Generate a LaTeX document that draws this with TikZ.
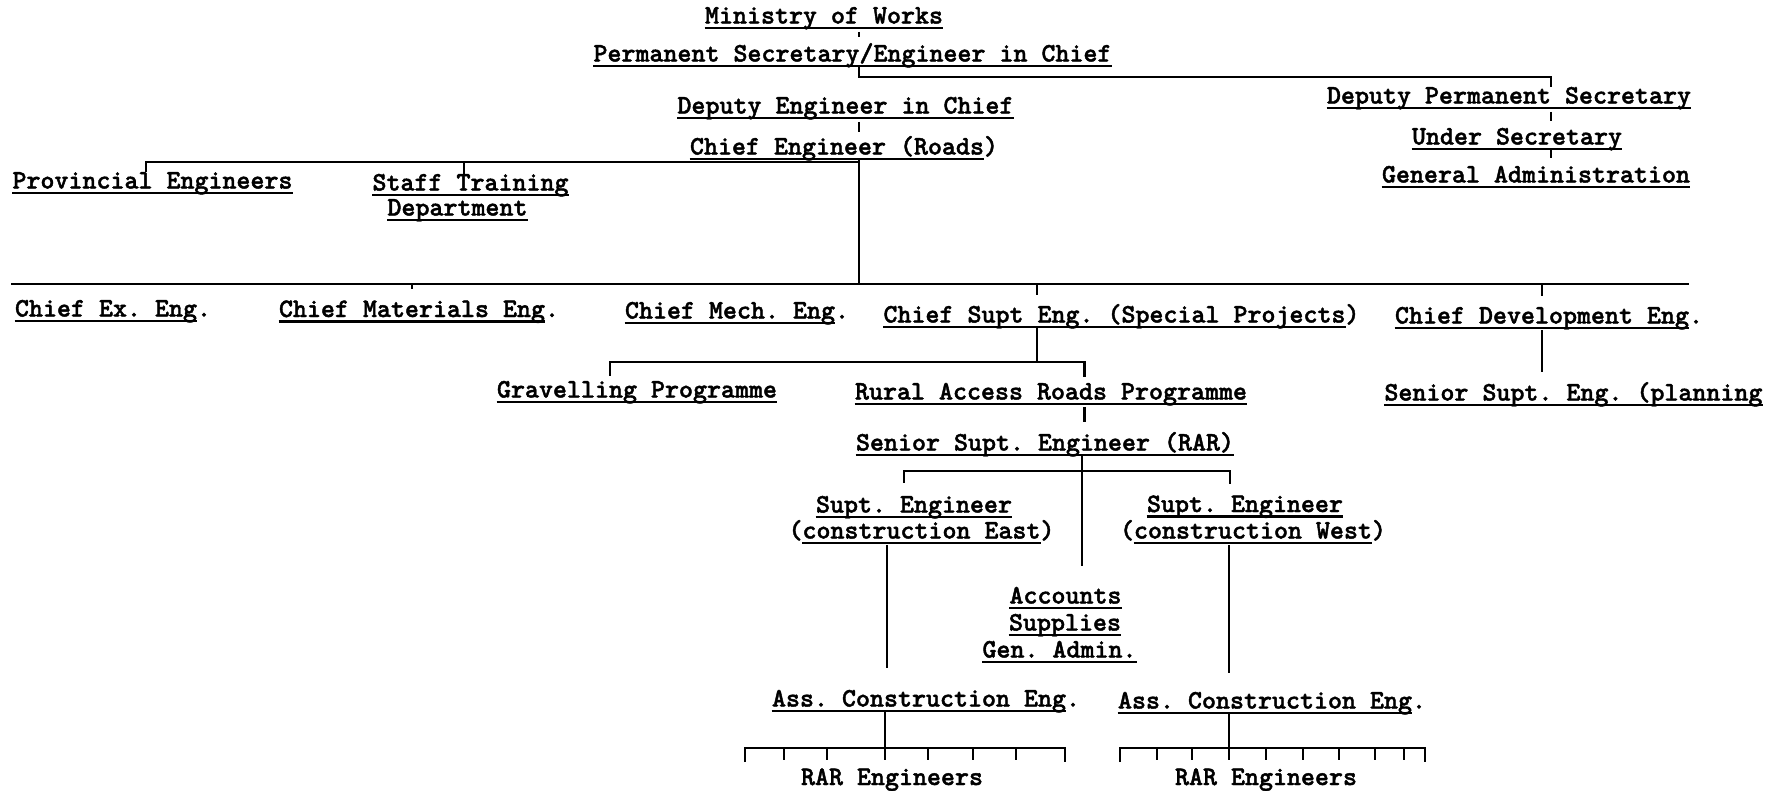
\documentclass[tikz,border=0pt]{standalone}
\usepackage{fontspec}
\newfontfamily\tw{lmmonolt10-bold}[Extension=.otf,FakeBold=1.6]
\usetikzlibrary{calc}
\frenchspacing
\newcommand\ulnode[5][]{%
  \node[tw,#1] (#2) at (#3,#4) {#5};
  \draw[ul] ([yshift=-2pt]#2.base west) -- ([yshift=-2pt]#2.base east);
  \coordinate (#2-u) at ([yshift=-2pt]#2.base);
}
\begin{document}
\begin{tikzpicture}[x=0.45pt,y=-0.45pt,
  tw/.style={font=\tw\fontsize{12}{14}\selectfont\frenchspacing, inner sep=0pt, anchor=base,
             text height=7.3pt, text depth=2.4pt},
  ul/.style={line width=1.15pt},
  ln/.style={line width=1.1pt}]
\fill[white] (0,0) rectangle (1777,790);
% ---- nodes
\ulnode{mow}{824}{23.5}{Ministry of Works}
\ulnode{psec}{852.5}{61.5}{Permanent Secretary/Engineer in Chief}
\ulnode{dec}{845.5}{113.5}{Deputy Engineer in Chief}
\ulnode{cer}{837}{154.5}{Chief Engineer (Roads\rlap{)}}
\ulnode{dps}{1509}{103.5}{Deputy Permanent Secretary}
\ulnode{us}{1517}{144.5}{Under Secretary}
\ulnode{ga}{1536}{182.5}{General Administration}
\ulnode{prov}{152.5}{188.5}{Provincial Engineers}
\ulnode{stt}{470.5}{190.5}{Staff Training}
\ulnode{dept}{457.5}{215.5}{Department}
\ulnode{cex}{106}{316.5}{Chief Ex. Eng\rlap{.}}
\ulnode{cme}{412}{317}{Chief Materials Eng\rlap{.}}
\ulnode{cmh}{730}{318.5}{Chief Mech. Eng\rlap{.}}
\ulnode{csp}{1114.5}{322.5}{Chief Supt Eng. (Special Projects\rlap{)}}
\ulnode{cde}{1542}{323.5}{Chief Development Eng\rlap{.}}
\ulnode[anchor=base west]{ssp}{1384}{400.5}{Senior Supt. Eng. (planning}
\ulnode{grav}{637}{397.5}{Gravelling Programme}
\ulnode{rar}{1051}{399.5}{Rural Access Roads Programme}
\ulnode{ssr}{1045}{450.5}{Senior Supt. Engineer (RAR)}
\ulnode{se1}{914}{512.5}{Supt. Engineer}
\ulnode{se2}{921.5}{538.5}{\llap{(}construction East\rlap{)}}
\ulnode{sw1}{1245}{512}{Supt. Engineer}
\ulnode{sw2}{1253}{538.5}{\llap{(}construction West\rlap{)}}
\ulnode{acc}{1065.5}{603.5}{Accounts}
\ulnode{sup}{1065}{630.5}{Supplies}
\ulnode{gad}{1059.5}{657.5}{Gen. Admin.}
\ulnode{ae}{919}{706.5}{Ass. Construction Eng\rlap{.}}
\ulnode{aw}{1265}{708.5}{Ass. Construction Eng\rlap{.}}
\node[tw] (re) at (892,785) {RAR Engineers};
\node[tw] (rw) at (1266,785) {RAR Engineers};
% ---- trunk positions
\coordinate (xa) at (859,0);  \coordinate (xb) at (1551,0);
\coordinate (xc) at (146,0);  \coordinate (xd) at (464,0);
\coordinate (xe) at (412,0);  \coordinate (xf) at (1037,0);
\coordinate (xg) at (1542,0); \coordinate (xh) at (610,0);
\coordinate (xi) at (1084.5,0); \coordinate (xj) at (1082,0);
\coordinate (xk) at (904,0);  \coordinate (xl) at (1230,0);
\coordinate (xm) at (887,0);  \coordinate (xn) at (1229,0);
\coordinate (xo) at (885,0);  \coordinate (xp) at (1229,0);
\coordinate (yA) at (0,77);   \coordinate (yB) at (0,162);
\coordinate (yC) at (0,284);  \coordinate (yD) at (0,362);
\coordinate (yE) at (0,471);  \coordinate (yF) at (0,748);
\coordinate (lineL) at (11,284); \coordinate (lineR) at (1689,284);
% ---- connectors
\draw[ln,shorten <=1.8pt,shorten >=3.4pt] (mow-u -| xa) -- (psec.north -| xa);
\draw[ln] (psec-u -| xa) |- (yA -| xb) -- (dps.north -| xb);
\draw[ln,shorten <=1.8pt,shorten >=3.2pt] (dps-u -| xb) -- (us.north -| xb);
\draw[ln,shorten <=0.5pt,shorten >=3.7pt] (us-u -| xb) -- (ga.north -| xb);
\draw[ln,shorten <=1.8pt,shorten >=2.8pt] (dec-u -| xa) -- (cer.north -| xa);
\draw[ln] (prov.north -| xc) |- (yB -| xa);
\draw[ln] (yB -| xd) -- (stt.north -| xd);
\draw[ln] (cer-u -| xa) -- (yC -| xa);
\draw[ln] (lineL) -- (lineR);
\draw[ln,shorten >=5pt] (yC -| xe) -- (cme.north -| xe);
\draw[ln,shorten >=5pt] (yC -| xf) -- (csp.north -| xf);
\draw[ln,shorten >=5pt] (yC -| xg) -- (cde.north -| xg);
\draw[ln,shorten <=1pt,shorten >=5.5pt] (cde-u -| xg) -- (ssp.north -| xg);
\draw[ln] (csp-u -| xf) -- (yD -| xf);
\draw[ln,shorten <=2.2pt,shorten >=2.7pt] (grav.north -| xh) |- (yD -| xi) -- (rar.north -| xi);
\draw[ln,shorten <=1.3pt,shorten >=5.5pt] (rar-u -| xi) -- (ssr.north -| xi);
\draw[ln,shorten >=9.2pt] (ssr-u -| xj) -- (acc.north -| xj);
\draw[ln,shorten <=6pt,shorten >=4.9pt] (se1.north -| xk) |- (yE -| xl) -- (sw1.north -| xl);
\draw[ln,shorten <=1pt,shorten >=10pt] (se2-u -| xm) -- (ae.north -| xm);
\draw[ln,shorten <=1pt,shorten >=8.7pt] (sw2-u -| xn) -- (aw.north -| xn);
\draw[ln] (ae-u -| xo) -- (yF -| xo);
\draw[ln] (aw-u -| xp) -- (yF -| xp);
% ---- brackets over RAR Engineers
\draw[ln] (745,762) -- (yF -| 745,0) -- (yF -| 1065,0) -- (1065,762);
\foreach \x in {784,827,885,928,973,1016}
  \draw[ln] (\x,748) -- (\x,760);
\draw[ln] (1120,762) -- (yF -| 1120,0) -- (yF -| 1425,0) -- (1425,762);
\foreach \x in {1157,1192,1229,1266,1303,1339,1375,1404}
  \draw[ln] (\x,748) -- (\x,760);
\end{tikzpicture}
\end{document}
